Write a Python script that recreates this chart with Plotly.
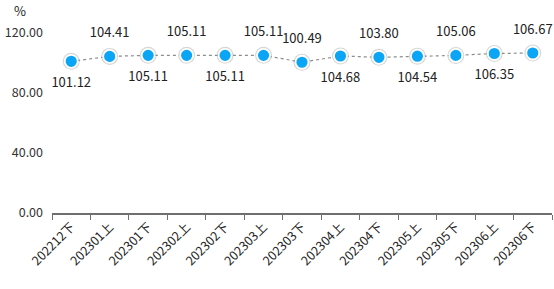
import plotly.graph_objects as go

categories = ["202212下", "202301上", "202301下", "202302上", "202302下", "202303上",
              "202303下", "202304上", "202304下", "202305上", "202305下", "202306上", "202306下"]
values = [101.12, 104.41, 105.11, 105.11, 105.11, 105.11, 100.49, 104.68, 103.80,
          104.54, 105.06, 106.35, 106.67]
label_pos = ["bottom center", "top center", "bottom center", "top center", "bottom center",
             "top center", "top center", "bottom center", "top center", "bottom center",
             "top center", "bottom center", "top center"]
y_ticks = [0, 40, 80, 120]

font = "Noto Sans CJK SC, Noto Sans, sans-serif"

fig = go.Figure()
# soft shadow behind markers
fig.add_trace(go.Scatter(
    x=categories, y=values, mode="markers",
    marker=dict(size=17, color="rgba(0,0,0,0.16)", line=dict(width=0)),
    hoverinfo="skip", showlegend=False,
))
fig.add_trace(go.Scatter(
    x=categories, y=values, mode="lines+markers",
    line=dict(color="#8c8c8c", width=1.2, dash="dot"),
    marker=dict(size=13, color="#0aa6f5", line=dict(color="#ffffff", width=1.8)),
    showlegend=False,
))
# value labels (transparent carrier markers give the label offset)
fig.add_trace(go.Scatter(
    x=categories, y=values, mode="markers+text",
    marker=dict(size=24, color="rgba(0,0,0,0)"),
    text=[f"{v:.2f}" for v in values], textposition=label_pos,
    textfont=dict(family=font, size=13, color="#222222"),
    hoverinfo="skip", showlegend=False, cliponaxis=False,
))

fig.update_layout(
    width=554, height=289,
    margin=dict(l=52, r=2, t=33, b=76),
    paper_bgcolor="white", plot_bgcolor="white",
    font=dict(family=font, size=12, color="#333333"),
    annotations=[dict(text="%", xref="paper", yref="paper", x=-0.065, y=1.06,
                      xanchor="center", yanchor="bottom", showarrow=False,
                      font=dict(family=font, size=13, color="#222222"))],
)
fig.update_xaxes(
    type="category", tickson="boundaries", ticks="outside", ticklen=5,
    tickcolor="#6e6e6e", showline=True, linecolor="#6e6e6e", linewidth=1.5,
    showgrid=False, tickangle=-45, tickfont=dict(family=font, size=12.5, color="#222222"),
    range=[-0.5, len(categories) - 0.5],
)
fig.update_yaxes(
    range=[0, 120], tickvals=y_ticks, ticktext=[f"{t:.2f}" for t in y_ticks],
    showgrid=False, zeroline=False, showline=False, ticks="", ticklabelstandoff=8,
    tickfont=dict(family=font, size=12.5, color="#333333"),
)

fig.write_html("out.html")
